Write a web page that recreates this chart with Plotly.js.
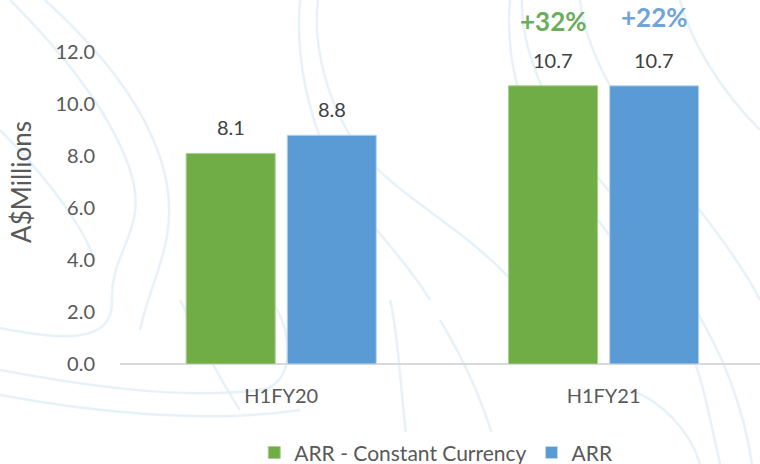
<!DOCTYPE html>
<html>
<head>
<meta charset="utf-8">
<script src="https://cdn.plot.ly/plotly-3.0.1.min.js"></script>
<style>html,body{margin:0;padding:0;background:#fff;}#chart{width:760px;height:464px;}</style>
</head>
<body>
<div id="chart"></div>
<script>
var categories = ['H1FY20', 'H1FY21'];
var arrConstant = [8.1, 10.7];
var arrReported = [8.8, 10.7];
var seriesNames = ['ARR - Constant Currency', 'ARR'];
var growthLabels = ['+32%', '+22%'];
var growthY = [13.2, 13.35];
var yTicks = [0, 2, 4, 6, 8, 10, 12];

var green = '#70AD47', blue = '#5B9BD5';
var font = 'Lato, "Open Sans", sans-serif';
var barOffset = 0.1567;

var traces = [
  {type: 'bar', name: seriesNames[0], x: [0, 1], y: arrConstant,
   marker: {color: green, line: {color: '#A9D18E', width: 1}}, hoverinfo: 'none'},
  {type: 'bar', name: seriesNames[1], x: [0, 1], y: arrReported,
   marker: {color: blue, line: {color: '#BDD7EE', width: 1}}, hoverinfo: 'none'}
];

var bg = 'rgba(214,234,246,0.6)';
var paths = [
  'M 10 0 C 60 50, 110 110, 130 170 C 150 230, 110 250, 112 300 C 114 345, 60 340, 0 328',
  'M 45 0 C 100 50, 150 110, 165 175 C 180 240, 150 280, 140 330',
  'M 0 130 C 40 170, 80 220, 95 260',
  'M 0 370 C 80 385, 180 400, 260 390 C 300 385, 290 320, 270 300',
  'M 0 395 C 80 410, 200 425, 300 410',
  'M 300 0 C 295 60, 310 120, 330 160 C 360 220, 400 250, 430 300',
  'M 318 0 C 312 50, 330 110, 360 150 C 400 200, 470 230, 520 290',
  'M 510 0 C 505 60, 520 120, 560 170 C 600 220, 640 280, 680 330 C 700 360, 710 420, 720 464',
  'M 522 0 C 520 60, 560 130, 600 180 C 640 230, 700 300, 730 380 C 745 420, 750 450, 752 464',
  'M 580 0 C 585 50, 620 110, 660 160 C 700 210, 740 260, 760 300',
  'M 680 0 C 690 40, 720 90, 760 130',
  'M 390 300 C 400 340, 400 400, 410 464',
  'M 440 320 C 470 370, 490 420, 500 464',
  'M 700 464 C 690 430, 660 400, 630 390',
  'M 180 300 C 200 340, 220 380, 240 410'
];
var L = 120, W = 640, H = 364;
function conv(p){
  var tok = p.split(/\s+/); var out = []; var isX = true;
  for (var i=0;i<tok.length;i++){
    var t = tok[i];
    if (/^[A-Za-z]$/.test(t)) { out.push(t); isX = true; continue; }
    var v = parseFloat(t.replace(',', ''));
    var comma = t.indexOf(',') >= 0;
    out.push((isX ? ((v - L)/W) : ((H - v)/H)).toFixed(4) + (comma?',':''));
    isX = !isX;
  }
  return out.join(' ');
}
var shapes = paths.map(function(p){
  return {type: 'path', path: conv(p), xref: 'paper', yref: 'paper', layer: 'below',
          line: {color: bg, width: 2.5}};
});

var annotations = [];
[arrConstant, arrReported].forEach(function(arr, s){
  arr.forEach(function(v, i){
    annotations.push({x: i + (s === 0 ? -barOffset : barOffset), y: v, xref: 'x', yref: 'y',
      text: v.toFixed(1), showarrow: false, yanchor: 'bottom', yshift: 12,
      font: {size: 20, color: '#404040', family: font}});
  });
});
growthLabels.forEach(function(t, i){
  annotations.push({x: 1 + (i === 0 ? -barOffset : barOffset), y: growthY[i], xref: 'x', yref: 'y',
          text: '<b>' + t + '</b>', showarrow: false,
          font: {size: 26, color: i === 0 ? '#6AAD5B' : '#6FA4DC', family: font}});
});

var layout = {
  width: 760, height: 464,
  margin: {l: 120, r: 0, t: 0, b: 100},
  paper_bgcolor: '#ffffff', plot_bgcolor: 'rgba(0,0,0,0)',
  barmode: 'group', bargap: 0.373, bargroupgap: 0.119,
  font: {family: font, color: '#595959', size: 20},
  xaxis: {showgrid: false, zeroline: false, showline: false, automargin: false,
          tickvals: [0, 1], ticktext: categories,
          tickfont: {size: 20, color: '#595959'}, ticks: 'outside', ticklen: 14,
          tickcolor: 'rgba(0,0,0,0)', range: [-0.5, 1.485]},
  yaxis: {range: [0, 14], tickvals: yTicks, ticktext: yTicks.map(function(v){return v.toFixed(1);}),
          showgrid: false, zeroline: true, zerolinecolor: '#D9D9D9', zerolinewidth: 1.5,
          showline: false, ticks: 'outside', ticklen: 20, tickcolor: 'rgba(0,0,0,0)',
          automargin: false, tickfont: {size: 20, color: '#595959'},
          title: {text: 'A$Millions', font: {size: 26, color: '#595959'}, standoff: 16}},
  showlegend: true,
  legend: {orientation: 'h', x: 0.574, xanchor: 'center', xref: 'container',
           y: 0.024, yanchor: 'middle', yref: 'container',
           font: {size: 21, color: '#595959'}, traceorder: 'normal'},
  shapes: shapes,
  annotations: annotations
};
Plotly.newPlot('chart', traces, layout, {displayModeBar: false, staticPlot: true});
</script>
</body>
</html>
